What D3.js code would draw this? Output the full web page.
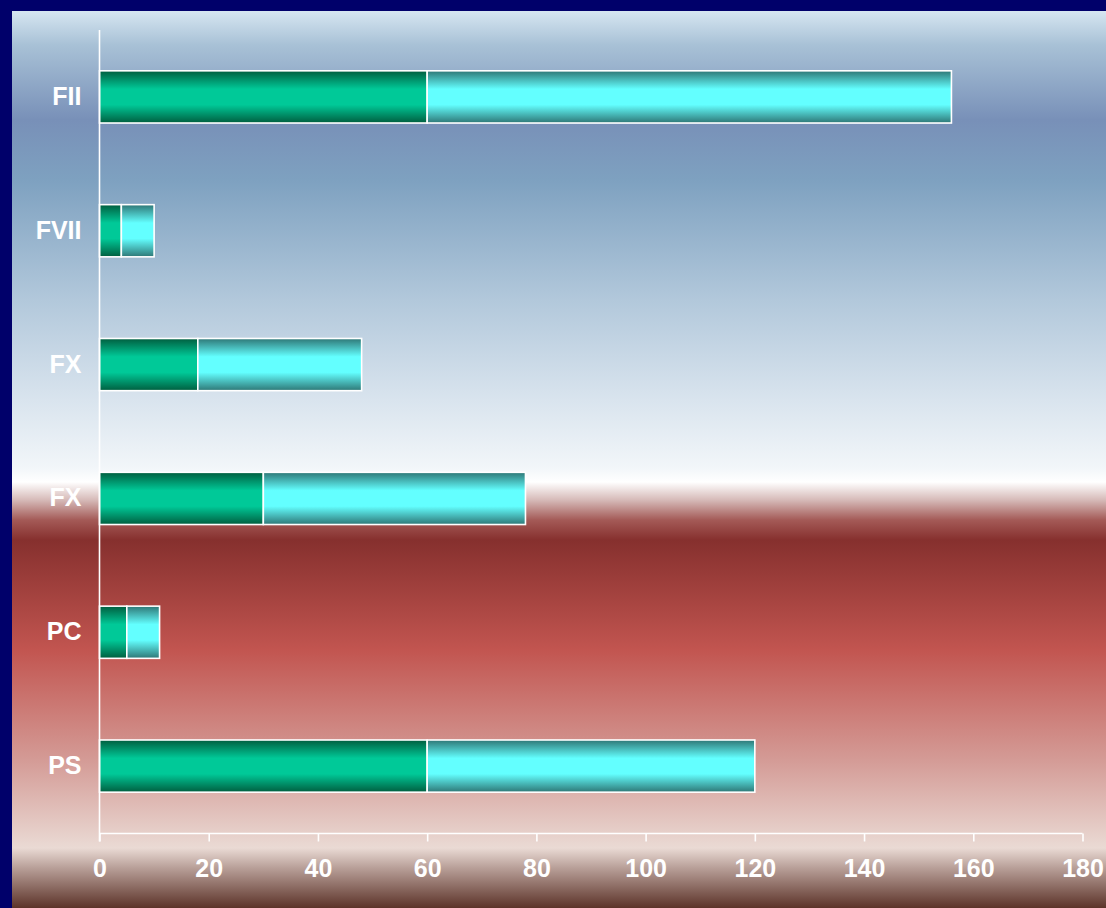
<!DOCTYPE html>
<html>
<head>
<meta charset="utf-8">
<script src="https://cdn.jsdelivr.net/npm/d3@7"></script>
<style>
  html, body { margin: 0; padding: 0; background: #00006a; }
  svg { display: block; }
  text { font-family: "Liberation Sans", Arial, Helvetica, sans-serif; font-weight: bold; fill: #ffffff; }
</style>
</head>
<body>
<svg id="chart" width="1106" height="908"></svg>
<script>
// Factor categories (top to bottom) and the two stacked segments per bar
const categories = ["FII", "FVII", "FX", "FX", "PC", "PS"];
const seriesA = [60, 4, 18, 30, 5, 60];
const seriesB = [96, 6, 30, 48, 6, 60];
const xTicks = [0, 20, 40, 60, 80, 100, 120, 140, 160, 180];
const xDomain = [0, 180];

const W = 1106, H = 908;
const svg = d3.select("#chart");
const defs = svg.append("defs");

// Backdrop: sky-blue fading to white, then a deep red band fading to pink
const bg = defs.append("linearGradient")
  .attr("id", "bg").attr("gradientUnits", "userSpaceOnUse")
  .attr("x1", 0).attr("y1", 11).attr("x2", 0).attr("y2", H);
[
  [11, "#d6e6f1"], [45, "#a8c1d6"], [120, "#7890b8"], [180, "#7ea1c0"],
  [300, "#b2c8db"], [400, "#d9e4ee"], [468, "#f2f6f9"], [482, "#ffffff"],
  [500, "#d6bab8"], [520, "#a45a57"], [540, "#86302e"], [650, "#c25550"],
  [760, "#d49b96"], [848, "#eadad4"], [868, "#b89f98"], [908, "#5c3329"]
].forEach(([y, c]) => bg.append("stop")
  .attr("offset", ((y - 11) / (H - 11) * 100) + "%").attr("stop-color", c));

svg.append("rect").attr("width", W).attr("height", H).attr("fill", "#00006a");
svg.append("rect").attr("x", 12).attr("y", 11).attr("width", W - 12).attr("height", H - 11)
  .attr("fill", "url(#bg)");

// Tube-like shading for each segment colour
function tube(id, edge, mid) {
  const g = defs.append("linearGradient").attr("id", id)
    .attr("x1", 0).attr("y1", 0).attr("x2", 0).attr("y2", 1);
  [[0, edge], [0.35, mid], [0.65, mid], [1, edge]].forEach(([o, c]) =>
    g.append("stop").attr("offset", o).attr("stop-color", c));
}
tube("gA", "#005e3f", "#00c998");
tube("gB", "#2e7776", "#63ffff");

const margin = { left: 99.5, right: 23.5, top: 30, bottom: 75 };
const x = d3.scaleLinear().domain(xDomain).range([margin.left, W - margin.right]);
const y = d3.scaleBand().domain(d3.range(categories.length))
  .range([margin.top, H - margin.bottom]).paddingInner(0.61).paddingOuter(0.305);

const rows = categories.map((c, i) => ({ i, a: seriesA[i], b: seriesB[i] }));
const stacked = d3.stack().keys(["a", "b"])(rows);
const fills = { a: "url(#gA)", b: "url(#gB)" };

stacked.forEach(layer => {
  svg.append("g").selectAll("rect").data(layer).join("rect")
    .attr("x", d => x(d[0]))
    .attr("y", d => y(d.data.i))
    .attr("width", d => x(d[1]) - x(d[0]))
    .attr("height", y.bandwidth())
    .attr("fill", fills[layer.key])
    .attr("stroke", "#ffffff")
    .attr("stroke-width", 1.6);
});

// Axes
const axisY = H - margin.bottom + 0.5;
const xAxis = svg.append("g").attr("transform", `translate(0,${axisY})`)
  .call(d3.axisBottom(x).tickValues(xTicks).tickSize(8).tickPadding(18).tickFormat(d3.format("d")));
xAxis.select(".domain").attr("stroke", "#ffffff").attr("stroke-width", 1.6)
  .attr("d", `M${x(0)},0H${x(180)}`);
xAxis.selectAll(".tick line").attr("stroke", "#ffffff").attr("stroke-width", 1.6);
xAxis.selectAll(".tick text").attr("font-size", 25).attr("fill", "#ffffff")
  .attr("font-family", null).style("font-weight", "bold");

const yAxis = svg.append("g").attr("transform", `translate(${margin.left},0)`)
  .call(d3.axisLeft(y).tickSize(0).tickPadding(18).tickFormat(i => categories[i]));
yAxis.select(".domain").attr("stroke", "#ffffff").attr("stroke-width", 1.6)
  .attr("d", `M0,${margin.top}V${axisY + 8}`);
yAxis.selectAll(".tick text").attr("font-size", 25).attr("fill", "#ffffff")
  .attr("font-family", null).style("font-weight", "bold");
</script>
</body>
</html>
